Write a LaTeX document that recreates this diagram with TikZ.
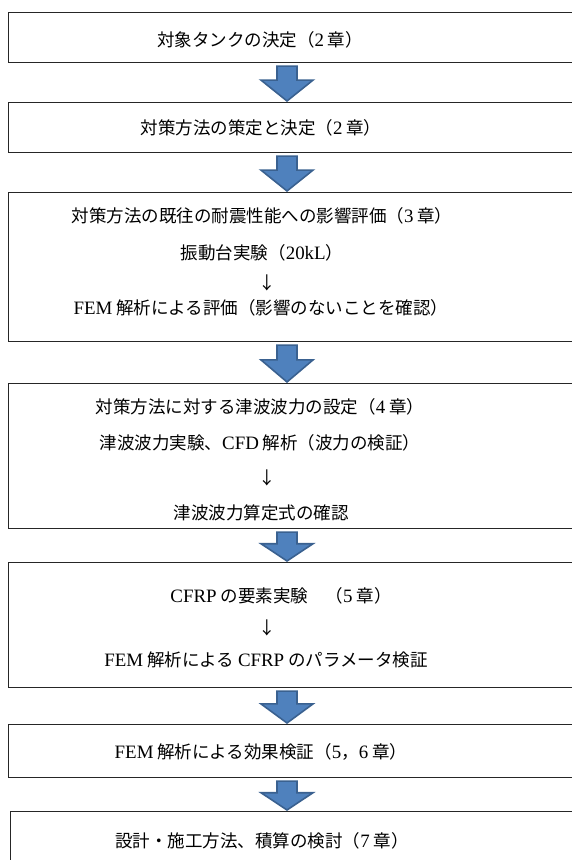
\documentclass[tikz,border=0pt]{standalone}
\usepackage{fontspec}
\setmainfont{Noto Sans CJK JP}
\newfontfamily\lat[Scale=1.08]{Liberation Serif}
\usetikzlibrary{calc}
\definecolor{arrowfill}{HTML}{4F81BD}
\definecolor{arrowline}{HTML}{3A6190}
\tikzset{
  box/.style={draw=black!85, line width=1.2pt, anchor=north west, inner sep=0pt, minimum width=620pt},
  txt/.style={font=\fontsize{17.5}{20}\selectfont, inner sep=0pt, anchor=center},
  blockarrow/.style={fill=arrowfill, draw=arrowline, line width=1.6pt, line join=miter}
}
\newcommand\blockarr[2]{%
  \draw[blockarrow] let \p1=(#1.south), \p2=(#2.north),
    \n1={\y1-3pt}, \n2={\y2+1pt}, \n3={\y1-3pt-0.4*(\y1-3pt-\y2-1pt)} in
    (277pt,\n1) -- (297pt,\n1) -- (297pt,\n3) -- (313pt,\n3) -- (287pt,\n2)
    -- (261pt,\n3) -- (277pt,\n3) -- cycle;}
\begin{document}
\begin{tikzpicture}[x=1pt,y=1pt]
\useasboundingbox (0,0) rectangle (572,860);
\clip (0,0) rectangle (572,860);
\fill[white] (0,0) rectangle (572,860);

% boxes
\node[box, minimum height=50pt]  (b1) at (8,848) {};
\node[box, minimum height=50pt]  (b2) at (8,758) {};
\node[box, minimum height=149pt] (b3) at (8,668) {};
\node[box, minimum height=145pt] (b4) at (8,477) {};
\node[box, minimum height=125pt] (b5) at (8,298) {};
\node[box, minimum height=53pt]  (b6) at (8,136) {};
\node[box, minimum height=90pt]  (b7) at (10,49) {};

% texts
\node[txt] (t1) at (260,820) {対象タンクの決定（{\lat 2} 章）};
\node[txt] (t2) at (261,732) {対策方法の策定と決定（{\lat 2} 章）};
\node[txt] (t3a) at (262,644) {対策方法の既往の耐震性能への影響評価（{\lat 3} 章）};
\node[txt] (t3b) at (262,607) {振動台実験（{\lat 20kL}）};
\node[txt] (t3c) at (267,577) {↓};
\node[txt] (t3d) at (261,552) {{\lat FEM} 解析による評価（影響のないことを確認）};
\node[txt] (t4a) at (260,453) {対策方法に対する津波波力の設定（{\lat 4} 章）};
\node[txt] (t4b) at (260,417) {津波波力実験、{\lat CFD} 解析（波力の検証）};
\node[txt] (t4c) at (267,382) {↓};
\node[txt] (t4d) at (261,347) {津波波力算定式の確認};
\node[txt] (t5a) at (281,264) {{\lat CFRP} の要素実験　（{\lat 5} 章）};
\node[txt] (t5b) at (267,232) {↓};
\node[txt] (t5c) at (266,200) {{\lat FEM} 解析による {\lat CFRP} のパラメータ検証};
\node[txt] (t6) at (261,108) {{\lat FEM} 解析による効果検証（{\lat 5}，{\lat 6} 章）};
\node[txt] (t7) at (262,19) {設計・施工方法、積算の検討（{\lat 7} 章）};

% block arrows
\blockarr{b1}{b2}
\blockarr{b2}{b3}
\blockarr{b3}{b4}
\blockarr{b4}{b5}
\blockarr{b5}{b6}
\blockarr{b6}{b7}
\end{tikzpicture}
\end{document}
